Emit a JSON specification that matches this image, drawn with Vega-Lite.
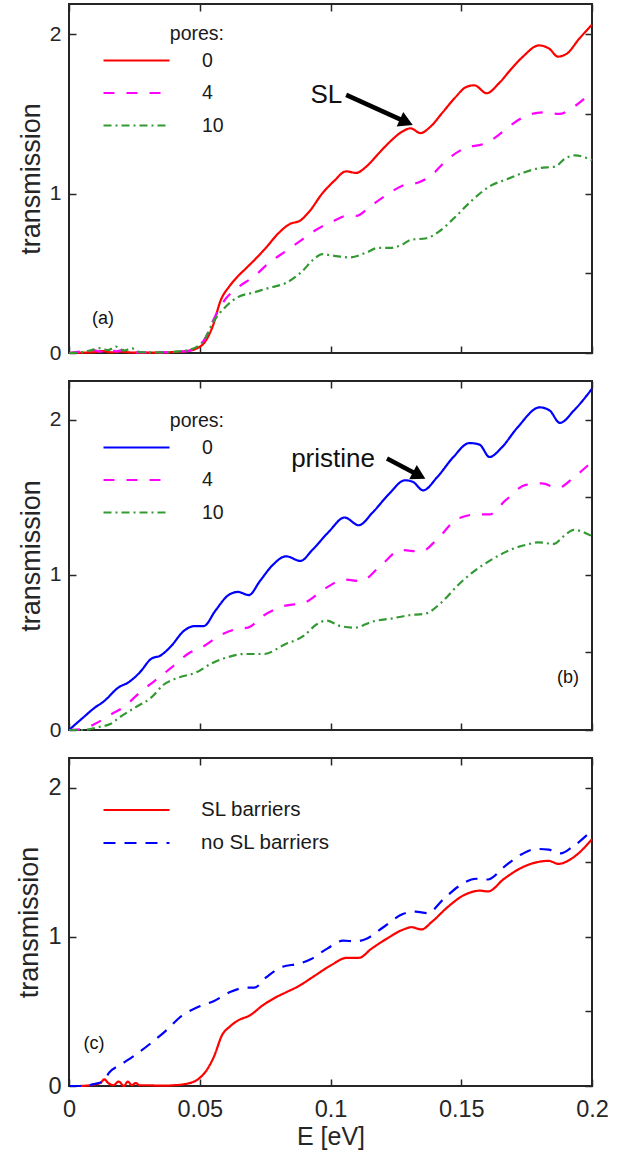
{
  "$schema": "https://vega.github.io/schema/vega-lite/v6.json",
  "padding": {"left": 14, "top": 2, "right": 5, "bottom": 5},
  "spacing": 15,
  "resolve": {"scale": {"color": "independent", "strokeDash": "independent"}, "legend": {"color": "independent", "strokeDash": "independent"}},
  "config": {
    "font": "Liberation Sans",
    "view": {"stroke": "#262626", "strokeWidth": 2},
    "axis": {"grid": false, "domain": false, "tickColor": "#262626", "tickWidth": 1.5, "tickSize": -7, "labelColor": "#262626", "labelFont": "Liberation Sans", "titleFont": "Liberation Sans", "titleColor": "#262626", "titleFontWeight": "normal", "labelFlush": false, "labelOverlap": false},
    "legend": {"orient": "none", "titleFontWeight": "normal", "titleColor": "#1a1a1a", "labelColor": "#1a1a1a", "titleFontSize": 19.5, "labelFontSize": 19.5, "symbolType": "stroke", "symbolSize": 4356, "symbolStrokeWidth": 2.2, "clipHeight": 20, "rowPadding": 12.5, "labelOffset": 31, "padding": 0, "titleAnchor": "end", "titlePadding": 6}
  },
  "datasets": {
    "a": [
      {"E":0,"T":0,"pores":"0"},{"E":0.005,"T":0.002,"pores":"0"},{"E":0.01,"T":0.006,"pores":"0"},{"E":0.013,"T":0.012,"pores":"0"},{"E":0.016,"T":0.004,"pores":"0"},{"E":0.02,"T":0.008,"pores":"0"},{"E":0.024,"T":0.003,"pores":"0"},{"E":0.03,"T":0.002,"pores":"0"},{"E":0.035,"T":0.003,"pores":"0"},{"E":0.04,"T":0.006,"pores":"0"},{"E":0.045,"T":0.012,"pores":"0"},{"E":0.049,"T":0.03,"pores":"0"},{"E":0.052,"T":0.07,"pores":"0"},{"E":0.055,"T":0.17,"pores":"0"},{"E":0.058,"T":0.33,"pores":"0"},{"E":0.0614,"T":0.42,"pores":"0"},{"E":0.0645,"T":0.48,"pores":"0"},{"E":0.0676,"T":0.53,"pores":"0"},{"E":0.0707,"T":0.58,"pores":"0"},{"E":0.0753,"T":0.66,"pores":"0"},{"E":0.08,"T":0.75,"pores":"0"},{"E":0.0845,"T":0.81,"pores":"0"},{"E":0.0883,"T":0.83,"pores":"0"},{"E":0.092,"T":0.89,"pores":"0"},{"E":0.0968,"T":1.0,"pores":"0"},{"E":0.1014,"T":1.08,"pores":"0"},{"E":0.106,"T":1.14,"pores":"0"},{"E":0.1098,"T":1.13,"pores":"0"},{"E":0.1137,"T":1.17,"pores":"0"},{"E":0.1183,"T":1.25,"pores":"0"},{"E":0.123,"T":1.33,"pores":"0"},{"E":0.1275,"T":1.39,"pores":"0"},{"E":0.1306,"T":1.41,"pores":"0"},{"E":0.1344,"T":1.38,"pores":"0"},{"E":0.1382,"T":1.42,"pores":"0"},{"E":0.1429,"T":1.51,"pores":"0"},{"E":0.1475,"T":1.6,"pores":"0"},{"E":0.152,"T":1.67,"pores":"0"},{"E":0.155,"T":1.68,"pores":"0"},{"E":0.1597,"T":1.63,"pores":"0"},{"E":0.1643,"T":1.69,"pores":"0"},{"E":0.169,"T":1.78,"pores":"0"},{"E":0.1736,"T":1.86,"pores":"0"},{"E":0.1797,"T":1.93,"pores":"0"},{"E":0.1836,"T":1.91,"pores":"0"},{"E":0.187,"T":1.86,"pores":"0"},{"E":0.1905,"T":1.88,"pores":"0"},{"E":0.195,"T":1.97,"pores":"0"},{"E":0.2,"T":2.06,"pores":"0"},
      {"E":0,"T":0,"pores":"4"},{"E":0.005,"T":0.01,"pores":"4"},{"E":0.009,"T":0.02,"pores":"4"},{"E":0.012,"T":0.008,"pores":"4"},{"E":0.015,"T":0.03,"pores":"4"},{"E":0.018,"T":0.01,"pores":"4"},{"E":0.021,"T":0.02,"pores":"4"},{"E":0.025,"T":0.004,"pores":"4"},{"E":0.03,"T":0.004,"pores":"4"},{"E":0.04,"T":0.006,"pores":"4"},{"E":0.045,"T":0.012,"pores":"4"},{"E":0.049,"T":0.035,"pores":"4"},{"E":0.052,"T":0.09,"pores":"4"},{"E":0.055,"T":0.2,"pores":"4"},{"E":0.0599,"T":0.34,"pores":"4"},{"E":0.0645,"T":0.41,"pores":"4"},{"E":0.0707,"T":0.48,"pores":"4"},{"E":0.0768,"T":0.57,"pores":"4"},{"E":0.083,"T":0.64,"pores":"4"},{"E":0.089,"T":0.71,"pores":"4"},{"E":0.0952,"T":0.78,"pores":"4"},{"E":0.1014,"T":0.83,"pores":"4"},{"E":0.106,"T":0.86,"pores":"4"},{"E":0.1098,"T":0.86,"pores":"4"},{"E":0.1152,"T":0.92,"pores":"4"},{"E":0.1213,"T":0.99,"pores":"4"},{"E":0.1275,"T":1.05,"pores":"4"},{"E":0.1336,"T":1.07,"pores":"4"},{"E":0.1382,"T":1.11,"pores":"4"},{"E":0.1444,"T":1.21,"pores":"4"},{"E":0.152,"T":1.29,"pores":"4"},{"E":0.1582,"T":1.31,"pores":"4"},{"E":0.1628,"T":1.35,"pores":"4"},{"E":0.169,"T":1.43,"pores":"4"},{"E":0.1751,"T":1.49,"pores":"4"},{"E":0.1813,"T":1.51,"pores":"4"},{"E":0.1874,"T":1.5,"pores":"4"},{"E":0.1935,"T":1.55,"pores":"4"},{"E":0.2,"T":1.64,"pores":"4"},
      {"E":0,"T":0,"pores":"10"},{"E":0.005,"T":0.005,"pores":"10"},{"E":0.009,"T":0.02,"pores":"10"},{"E":0.012,"T":0.03,"pores":"10"},{"E":0.015,"T":0.018,"pores":"10"},{"E":0.018,"T":0.04,"pores":"10"},{"E":0.021,"T":0.015,"pores":"10"},{"E":0.024,"T":0.03,"pores":"10"},{"E":0.027,"T":0.005,"pores":"10"},{"E":0.035,"T":0.004,"pores":"10"},{"E":0.042,"T":0.01,"pores":"10"},{"E":0.046,"T":0.02,"pores":"10"},{"E":0.049,"T":0.04,"pores":"10"},{"E":0.052,"T":0.09,"pores":"10"},{"E":0.055,"T":0.19,"pores":"10"},{"E":0.0599,"T":0.29,"pores":"10"},{"E":0.0645,"T":0.35,"pores":"10"},{"E":0.0707,"T":0.38,"pores":"10"},{"E":0.0768,"T":0.41,"pores":"10"},{"E":0.083,"T":0.44,"pores":"10"},{"E":0.089,"T":0.51,"pores":"10"},{"E":0.0937,"T":0.59,"pores":"10"},{"E":0.0968,"T":0.62,"pores":"10"},{"E":0.1014,"T":0.61,"pores":"10"},{"E":0.1075,"T":0.6,"pores":"10"},{"E":0.1137,"T":0.63,"pores":"10"},{"E":0.1183,"T":0.66,"pores":"10"},{"E":0.123,"T":0.66,"pores":"10"},{"E":0.1275,"T":0.68,"pores":"10"},{"E":0.1306,"T":0.71,"pores":"10"},{"E":0.1367,"T":0.72,"pores":"10"},{"E":0.1413,"T":0.76,"pores":"10"},{"E":0.1475,"T":0.85,"pores":"10"},{"E":0.1536,"T":0.95,"pores":"10"},{"E":0.1613,"T":1.05,"pores":"10"},{"E":0.1674,"T":1.09,"pores":"10"},{"E":0.1736,"T":1.13,"pores":"10"},{"E":0.1797,"T":1.16,"pores":"10"},{"E":0.1859,"T":1.17,"pores":"10"},{"E":0.1897,"T":1.22,"pores":"10"},{"E":0.1935,"T":1.24,"pores":"10"},{"E":0.2,"T":1.21,"pores":"10"}
    ],
    "b": [
      {"E":0,"T":0,"pores":"0"},{"E":0.0054,"T":0.08,"pores":"0"},{"E":0.01,"T":0.146,"pores":"0"},{"E":0.013,"T":0.18,"pores":"0"},{"E":0.019,"T":0.275,"pores":"0"},{"E":0.023,"T":0.31,"pores":"0"},{"E":0.027,"T":0.37,"pores":"0"},{"E":0.0315,"T":0.46,"pores":"0"},{"E":0.035,"T":0.48,"pores":"0"},{"E":0.039,"T":0.54,"pores":"0"},{"E":0.044,"T":0.64,"pores":"0"},{"E":0.048,"T":0.67,"pores":"0"},{"E":0.0515,"T":0.67,"pores":"0"},{"E":0.056,"T":0.77,"pores":"0"},{"E":0.061,"T":0.87,"pores":"0"},{"E":0.0646,"T":0.89,"pores":"0"},{"E":0.0688,"T":0.87,"pores":"0"},{"E":0.073,"T":0.96,"pores":"0"},{"E":0.0777,"T":1.06,"pores":"0"},{"E":0.083,"T":1.12,"pores":"0"},{"E":0.0885,"T":1.09,"pores":"0"},{"E":0.093,"T":1.16,"pores":"0"},{"E":0.0992,"T":1.275,"pores":"0"},{"E":0.1054,"T":1.37,"pores":"0"},{"E":0.1108,"T":1.32,"pores":"0"},{"E":0.116,"T":1.4,"pores":"0"},{"E":0.1223,"T":1.52,"pores":"0"},{"E":0.1285,"T":1.61,"pores":"0"},{"E":0.1315,"T":1.6,"pores":"0"},{"E":0.1354,"T":1.545,"pores":"0"},{"E":0.1408,"T":1.63,"pores":"0"},{"E":0.147,"T":1.76,"pores":"0"},{"E":0.1531,"T":1.85,"pores":"0"},{"E":0.157,"T":1.84,"pores":"0"},{"E":0.1608,"T":1.76,"pores":"0"},{"E":0.1654,"T":1.82,"pores":"0"},{"E":0.1715,"T":1.95,"pores":"0"},{"E":0.18,"T":2.08,"pores":"0"},{"E":0.1838,"T":2.06,"pores":"0"},{"E":0.1877,"T":1.98,"pores":"0"},{"E":0.1931,"T":2.06,"pores":"0"},{"E":0.2,"T":2.2,"pores":"0"},
      {"E":0,"T":0,"pores":"4"},{"E":0.0054,"T":0.006,"pores":"4"},{"E":0.01,"T":0.04,"pores":"4"},{"E":0.016,"T":0.1,"pores":"4"},{"E":0.0208,"T":0.146,"pores":"4"},{"E":0.027,"T":0.24,"pores":"4"},{"E":0.033,"T":0.32,"pores":"4"},{"E":0.039,"T":0.4,"pores":"4"},{"E":0.0454,"T":0.49,"pores":"4"},{"E":0.0515,"T":0.54,"pores":"4"},{"E":0.0577,"T":0.61,"pores":"4"},{"E":0.0638,"T":0.65,"pores":"4"},{"E":0.0685,"T":0.66,"pores":"4"},{"E":0.0746,"T":0.74,"pores":"4"},{"E":0.0823,"T":0.8,"pores":"4"},{"E":0.09,"T":0.82,"pores":"4"},{"E":0.0977,"T":0.91,"pores":"4"},{"E":0.1054,"T":0.97,"pores":"4"},{"E":0.1115,"T":0.96,"pores":"4"},{"E":0.1192,"T":1.06,"pores":"4"},{"E":0.1269,"T":1.16,"pores":"4"},{"E":0.1346,"T":1.15,"pores":"4"},{"E":0.1408,"T":1.23,"pores":"4"},{"E":0.1485,"T":1.36,"pores":"4"},{"E":0.1562,"T":1.39,"pores":"4"},{"E":0.1608,"T":1.39,"pores":"4"},{"E":0.1669,"T":1.48,"pores":"4"},{"E":0.1746,"T":1.58,"pores":"4"},{"E":0.1808,"T":1.59,"pores":"4"},{"E":0.1869,"T":1.56,"pores":"4"},{"E":0.1931,"T":1.63,"pores":"4"},{"E":0.2,"T":1.73,"pores":"4"},
      {"E":0,"T":0,"pores":"10"},{"E":0.0054,"T":0.0,"pores":"10"},{"E":0.0115,"T":0.02,"pores":"10"},{"E":0.016,"T":0.04,"pores":"10"},{"E":0.0192,"T":0.08,"pores":"10"},{"E":0.0254,"T":0.146,"pores":"10"},{"E":0.0315,"T":0.21,"pores":"10"},{"E":0.036,"T":0.29,"pores":"10"},{"E":0.0423,"T":0.34,"pores":"10"},{"E":0.0485,"T":0.37,"pores":"10"},{"E":0.0546,"T":0.43,"pores":"10"},{"E":0.0608,"T":0.47,"pores":"10"},{"E":0.0669,"T":0.49,"pores":"10"},{"E":0.0746,"T":0.49,"pores":"10"},{"E":0.0823,"T":0.55,"pores":"10"},{"E":0.09,"T":0.61,"pores":"10"},{"E":0.0946,"T":0.68,"pores":"10"},{"E":0.0985,"T":0.705,"pores":"10"},{"E":0.1038,"T":0.67,"pores":"10"},{"E":0.1092,"T":0.66,"pores":"10"},{"E":0.1162,"T":0.7,"pores":"10"},{"E":0.1238,"T":0.72,"pores":"10"},{"E":0.13,"T":0.74,"pores":"10"},{"E":0.1362,"T":0.75,"pores":"10"},{"E":0.1423,"T":0.82,"pores":"10"},{"E":0.1485,"T":0.93,"pores":"10"},{"E":0.1546,"T":1.02,"pores":"10"},{"E":0.1608,"T":1.09,"pores":"10"},{"E":0.1685,"T":1.16,"pores":"10"},{"E":0.1762,"T":1.2,"pores":"10"},{"E":0.1792,"T":1.21,"pores":"10"},{"E":0.1854,"T":1.2,"pores":"10"},{"E":0.1892,"T":1.25,"pores":"10"},{"E":0.1931,"T":1.29,"pores":"10"},{"E":0.2,"T":1.25,"pores":"10"}
    ],
    "c": [
      {"E":0.004,"T":0,"series":"SL barriers"},{"E":0.008,"T":0.005,"series":"SL barriers"},{"E":0.012,"T":0.02,"series":"SL barriers"},{"E":0.0135,"T":0.045,"series":"SL barriers"},{"E":0.015,"T":0.02,"series":"SL barriers"},{"E":0.017,"T":0.005,"series":"SL barriers"},{"E":0.019,"T":0.03,"series":"SL barriers"},{"E":0.021,"T":0.0,"series":"SL barriers"},{"E":0.0225,"T":0.03,"series":"SL barriers"},{"E":0.024,"T":0.005,"series":"SL barriers"},{"E":0.0255,"T":0.02,"series":"SL barriers"},{"E":0.027,"T":0.005,"series":"SL barriers"},{"E":0.03,"T":0.005,"series":"SL barriers"},{"E":0.035,"T":0.002,"series":"SL barriers"},{"E":0.04,"T":0.005,"series":"SL barriers"},{"E":0.045,"T":0.015,"series":"SL barriers"},{"E":0.0493,"T":0.045,"series":"SL barriers"},{"E":0.0524,"T":0.1,"series":"SL barriers"},{"E":0.0555,"T":0.2,"series":"SL barriers"},{"E":0.0585,"T":0.34,"series":"SL barriers"},{"E":0.0616,"T":0.4,"series":"SL barriers"},{"E":0.0647,"T":0.44,"series":"SL barriers"},{"E":0.0693,"T":0.475,"series":"SL barriers"},{"E":0.074,"T":0.54,"series":"SL barriers"},{"E":0.0786,"T":0.59,"series":"SL barriers"},{"E":0.0832,"T":0.63,"series":"SL barriers"},{"E":0.0878,"T":0.67,"series":"SL barriers"},{"E":0.094,"T":0.74,"series":"SL barriers"},{"E":0.1002,"T":0.81,"series":"SL barriers"},{"E":0.1063,"T":0.86,"series":"SL barriers"},{"E":0.1109,"T":0.86,"series":"SL barriers"},{"E":0.1156,"T":0.92,"series":"SL barriers"},{"E":0.1217,"T":0.99,"series":"SL barriers"},{"E":0.1279,"T":1.05,"series":"SL barriers"},{"E":0.131,"T":1.065,"series":"SL barriers"},{"E":0.1348,"T":1.05,"series":"SL barriers"},{"E":0.1387,"T":1.1,"series":"SL barriers"},{"E":0.1448,"T":1.2,"series":"SL barriers"},{"E":0.151,"T":1.28,"series":"SL barriers"},{"E":0.1572,"T":1.31,"series":"SL barriers"},{"E":0.1602,"T":1.305,"series":"SL barriers"},{"E":0.1664,"T":1.39,"series":"SL barriers"},{"E":0.1726,"T":1.46,"series":"SL barriers"},{"E":0.1787,"T":1.5,"series":"SL barriers"},{"E":0.1834,"T":1.51,"series":"SL barriers"},{"E":0.1872,"T":1.49,"series":"SL barriers"},{"E":0.1926,"T":1.53,"series":"SL barriers"},{"E":0.2,"T":1.655,"series":"SL barriers"},
      {"E":0,"T":0,"series":"no SL barriers"},{"E":0.005,"T":0.0,"series":"no SL barriers"},{"E":0.01,"T":0.015,"series":"no SL barriers"},{"E":0.013,"T":0.03,"series":"no SL barriers"},{"E":0.0154,"T":0.09,"series":"no SL barriers"},{"E":0.02,"T":0.146,"series":"no SL barriers"},{"E":0.0247,"T":0.2,"series":"no SL barriers"},{"E":0.0308,"T":0.28,"series":"no SL barriers"},{"E":0.037,"T":0.37,"series":"no SL barriers"},{"E":0.0431,"T":0.47,"series":"no SL barriers"},{"E":0.0493,"T":0.53,"series":"no SL barriers"},{"E":0.0555,"T":0.57,"series":"no SL barriers"},{"E":0.0616,"T":0.63,"series":"no SL barriers"},{"E":0.0678,"T":0.66,"series":"no SL barriers"},{"E":0.0709,"T":0.66,"series":"no SL barriers"},{"E":0.0755,"T":0.73,"series":"no SL barriers"},{"E":0.0817,"T":0.8,"series":"no SL barriers"},{"E":0.0878,"T":0.82,"series":"no SL barriers"},{"E":0.0924,"T":0.85,"series":"no SL barriers"},{"E":0.0986,"T":0.92,"series":"no SL barriers"},{"E":0.1048,"T":0.975,"series":"no SL barriers"},{"E":0.1094,"T":0.97,"series":"no SL barriers"},{"E":0.114,"T":0.99,"series":"no SL barriers"},{"E":0.1202,"T":1.065,"series":"no SL barriers"},{"E":0.1279,"T":1.155,"series":"no SL barriers"},{"E":0.1325,"T":1.17,"series":"no SL barriers"},{"E":0.1371,"T":1.16,"series":"no SL barriers"},{"E":0.1433,"T":1.255,"series":"no SL barriers"},{"E":0.1495,"T":1.345,"series":"no SL barriers"},{"E":0.1556,"T":1.39,"series":"no SL barriers"},{"E":0.1602,"T":1.385,"series":"no SL barriers"},{"E":0.1664,"T":1.47,"series":"no SL barriers"},{"E":0.1726,"T":1.55,"series":"no SL barriers"},{"E":0.1787,"T":1.59,"series":"no SL barriers"},{"E":0.1834,"T":1.585,"series":"no SL barriers"},{"E":0.188,"T":1.56,"series":"no SL barriers"},{"E":0.1926,"T":1.605,"series":"no SL barriers"},{"E":0.2,"T":1.715,"series":"no SL barriers"}
    ],
    "textA": [{"E":0.1045,"T":1.62,"label":"SL"}],
    "panelA": [{"E":0.013,"T":0.215,"label":"(a)"}],
    "arrowA": [{"E":0.106,"T":1.62,"E2":0.129,"T2":1.449}],
    "headA": [{"E":0.129,"T":1.449}],
    "textB": [{"E":0.117,"T":1.75,"label":"pristine"}],
    "panelB": [{"E":0.1908,"T":0.337,"label":"(b)"}],
    "arrowB": [{"E":0.1216,"T":1.75,"E2":0.1339,"T2":1.641}],
    "headB": [{"E":0.1339,"T":1.641}],
    "panelC": [{"E":0.0096,"T":0.283,"label":"(c)"}]
  },
  "vconcat": [
    {
      "width": 523, "height": 349,
      "resolve": {"axis": {"x": "independent", "y": "independent"}},
      "layer": [
        {
          "data": {"name": "a"},
          "mark": {"type": "line", "interpolate": "monotone", "strokeWidth": 2.2},
          "encoding": {
            "x": {"field": "E", "type": "quantitative", "scale": {"domain": [0, 0.2], "nice": false, "zero": false},
                  "axis": {"orient": "bottom", "values": [0, 0.05, 0.1, 0.15, 0.2], "labels": false, "title": null}},
            "y": {"field": "T", "type": "quantitative", "scale": {"domain": [0, 2.19], "nice": false},
                  "axis": {"orient": "left", "values": [0, 0.5, 1, 1.5, 2], "format": "d", "labelExpr": "datum.value % 1 == 0 ? datum.label : ''", "labelFontSize": 21, "labelPadding": 15, "title": "transmission", "titleFontSize": 27, "titlePadding": 4}},
            "color": {"field": "pores", "type": "nominal", "scale": {"domain": ["0", "4", "10"], "range": ["#ff0000", "#ff00ff", "#339933"]},
                      "legend": {"title": "pores:", "legendX": 33, "legendY": 21}},
            "strokeDash": {"field": "pores", "type": "nominal", "scale": {"domain": ["0", "4", "10"], "range": [[1, 0], [11, 12], [8, 4, 2, 4]]},
                      "legend": {"title": "pores:", "legendX": 33, "legendY": 21}}
          }
        },
        {
          "data": {"name": "a"},
          "mark": {"type": "line", "opacity": 0},
          "encoding": {
            "x": {"field": "E", "type": "quantitative", "axis": {"orient": "top", "values": [0, 0.05, 0.1, 0.15, 0.2], "labels": false, "title": null}},
            "y": {"field": "T", "type": "quantitative", "axis": {"orient": "right", "values": [0, 0.5, 1, 1.5, 2], "labels": false, "title": null}}
          }
        },
        {
          "data": {"name": "arrowA"},
          "mark": {"type": "rule", "strokeWidth": 4.5, "color": "#000000"},
          "encoding": {"x": {"field": "E", "type": "quantitative", "axis": null}, "y": {"field": "T", "type": "quantitative", "axis": null}, "x2": {"field": "E2"}, "y2": {"field": "T2"}}
        },
        {
          "data": {"name": "headA"},
          "mark": {"type": "point", "shape": "triangle-right", "filled": true, "color": "#000000", "opacity": 1, "size": 260, "angle": 24},
          "encoding": {"x": {"field": "E", "type": "quantitative", "axis": null}, "y": {"field": "T", "type": "quantitative", "axis": null}}
        },
        {
          "data": {"name": "textA"},
          "mark": {"type": "text", "align": "right", "baseline": "middle", "fontSize": 26, "color": "#111111"},
          "encoding": {"x": {"field": "E", "type": "quantitative", "axis": null}, "y": {"field": "T", "type": "quantitative", "axis": null}, "text": {"field": "label"}}
        },
        {
          "data": {"name": "panelA"},
          "mark": {"type": "text", "align": "center", "baseline": "middle", "fontSize": 18, "color": "#111111"},
          "encoding": {"x": {"field": "E", "type": "quantitative", "axis": null}, "y": {"field": "T", "type": "quantitative", "axis": null}, "text": {"field": "label"}}
        }
      ]
    },
    {
      "width": 523, "height": 349,
      "resolve": {"axis": {"x": "independent", "y": "independent"}},
      "layer": [
        {
          "data": {"name": "b"},
          "mark": {"type": "line", "interpolate": "monotone", "strokeWidth": 2.2},
          "encoding": {
            "x": {"field": "E", "type": "quantitative", "scale": {"domain": [0, 0.2], "nice": false, "zero": false},
                  "axis": {"orient": "bottom", "values": [0, 0.05, 0.1, 0.15, 0.2], "labels": false, "title": null}},
            "y": {"field": "T", "type": "quantitative", "scale": {"domain": [0, 2.25], "nice": false},
                  "axis": {"orient": "left", "values": [0, 0.5, 1, 1.5, 2], "format": "d", "labelExpr": "datum.value % 1 == 0 ? datum.label : ''", "labelFontSize": 21, "labelPadding": 15, "title": "transmission", "titleFontSize": 27, "titlePadding": 4}},
            "color": {"field": "pores", "type": "nominal", "scale": {"domain": ["0", "4", "10"], "range": ["#0000ff", "#ff00ff", "#339933"]},
                      "legend": {"title": "pores:", "legendX": 33, "legendY": 31}},
            "strokeDash": {"field": "pores", "type": "nominal", "scale": {"domain": ["0", "4", "10"], "range": [[1, 0], [11, 12], [8, 4, 2, 4]]},
                      "legend": {"title": "pores:", "legendX": 33, "legendY": 31}}
          }
        },
        {
          "data": {"name": "b"},
          "mark": {"type": "line", "opacity": 0},
          "encoding": {
            "x": {"field": "E", "type": "quantitative", "axis": {"orient": "top", "values": [0, 0.05, 0.1, 0.15, 0.2], "labels": false, "title": null}},
            "y": {"field": "T", "type": "quantitative", "axis": {"orient": "right", "values": [0, 0.5, 1, 1.5, 2], "labels": false, "title": null}}
          }
        },
        {
          "data": {"name": "arrowB"},
          "mark": {"type": "rule", "strokeWidth": 4.5, "color": "#000000"},
          "encoding": {"x": {"field": "E", "type": "quantitative", "axis": null}, "y": {"field": "T", "type": "quantitative", "axis": null}, "x2": {"field": "E2"}, "y2": {"field": "T2"}}
        },
        {
          "data": {"name": "headB"},
          "mark": {"type": "point", "shape": "triangle-right", "filled": true, "color": "#000000", "opacity": 1, "size": 260, "angle": 28},
          "encoding": {"x": {"field": "E", "type": "quantitative", "axis": null}, "y": {"field": "T", "type": "quantitative", "axis": null}}
        },
        {
          "data": {"name": "textB"},
          "mark": {"type": "text", "align": "right", "baseline": "middle", "fontSize": 26, "color": "#111111"},
          "encoding": {"x": {"field": "E", "type": "quantitative", "axis": null}, "y": {"field": "T", "type": "quantitative", "axis": null}, "text": {"field": "label"}}
        },
        {
          "data": {"name": "panelB"},
          "mark": {"type": "text", "align": "center", "baseline": "middle", "fontSize": 18, "color": "#111111"},
          "encoding": {"x": {"field": "E", "type": "quantitative", "axis": null}, "y": {"field": "T", "type": "quantitative", "axis": null}, "text": {"field": "label"}}
        }
      ]
    },
    {
      "width": 523, "height": 328,
      "resolve": {"axis": {"x": "independent", "y": "independent"}},
      "layer": [
        {
          "data": {"name": "c"},
          "mark": {"type": "line", "interpolate": "monotone", "strokeWidth": 2.2},
          "encoding": {
            "x": {"field": "E", "type": "quantitative", "scale": {"domain": [0, 0.2], "nice": false, "zero": false},
                  "axis": {"orient": "bottom", "values": [0, 0.05, 0.1, 0.15, 0.2], "format": "~g", "labelFontSize": 23.5, "labelPadding": 18, "title": "E [eV]", "titleFontSize": 25, "titlePadding": 4}},
            "y": {"field": "T", "type": "quantitative", "scale": {"domain": [0, 2.2], "nice": false},
                  "axis": {"orient": "left", "values": [0, 0.5, 1, 1.5, 2], "format": "d", "labelExpr": "datum.value % 1 == 0 ? datum.label : ''", "labelFontSize": 23.5, "labelPadding": 15, "title": "transmission", "titleFontSize": 27, "titlePadding": 4}},
            "color": {"field": "series", "type": "nominal", "scale": {"domain": ["SL barriers", "no SL barriers"], "range": ["#ff0000", "#0000ff"]},
                      "legend": {"title": null, "legendX": 33, "legendY": 42, "labelFontSize": 20.5, "labelOffset": 30, "rowPadding": 12}},
            "strokeDash": {"field": "series", "type": "nominal", "scale": {"domain": ["SL barriers", "no SL barriers"], "range": [[1, 0], [12, 9]]},
                      "legend": {"title": null, "legendX": 33, "legendY": 42, "labelFontSize": 20.5, "labelOffset": 30, "rowPadding": 12}}
          }
        },
        {
          "data": {"name": "c"},
          "mark": {"type": "line", "opacity": 0},
          "encoding": {
            "x": {"field": "E", "type": "quantitative", "axis": {"orient": "top", "values": [0, 0.05, 0.1, 0.15, 0.2], "labels": false, "title": null}},
            "y": {"field": "T", "type": "quantitative", "axis": {"orient": "right", "values": [0, 0.5, 1, 1.5, 2], "labels": false, "title": null}}
          }
        },
        {
          "data": {"name": "panelC"},
          "mark": {"type": "text", "align": "center", "baseline": "middle", "fontSize": 18, "color": "#111111"},
          "encoding": {"x": {"field": "E", "type": "quantitative", "axis": null}, "y": {"field": "T", "type": "quantitative", "axis": null}, "text": {"field": "label"}}
        }
      ]
    }
  ]
}
